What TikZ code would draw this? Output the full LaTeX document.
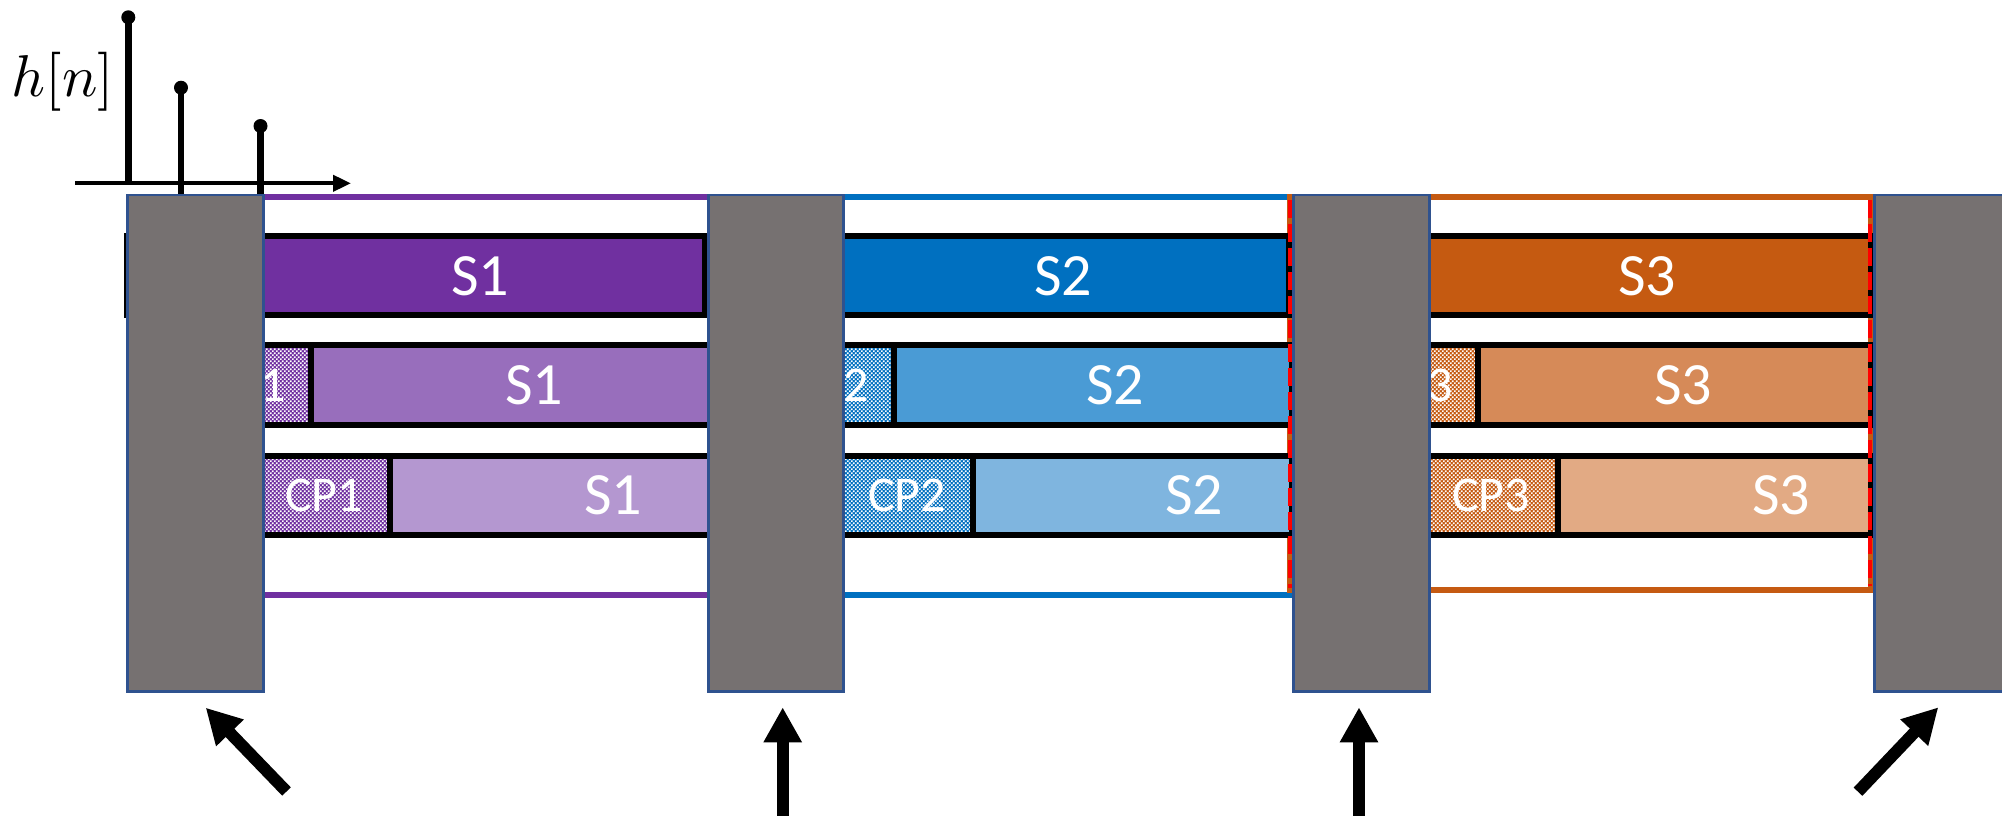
\documentclass[tikz,border=0pt]{standalone}
\usepackage[no-math]{fontspec}
\setmainfont{Carlito}
\usetikzlibrary{arrows.meta,patterns}
\pgfdeclarepatternformonly{cpchecker}{\pgfpointorigin}{\pgfqpoint{4.4pt}{4.4pt}}{\pgfqpoint{4.4pt}{4.4pt}}{%
  \pgfpathrectangle{\pgfpointorigin}{\pgfqpoint{1.9pt}{1.9pt}}%
  \pgfpathrectangle{\pgfqpoint{2.2pt}{2.2pt}}{\pgfqpoint{1.9pt}{1.9pt}}%
  \pgfusepath{fill}}
\definecolor{puA}{HTML}{7030A0}
\definecolor{puB}{HTML}{986EBC}
\definecolor{puC}{HTML}{B497D0}
\definecolor{blA}{HTML}{0070C0}
\definecolor{blB}{HTML}{4A9BD5}
\definecolor{blC}{HTML}{7FB5DF}
\definecolor{orA}{HTML}{C55A11}
\definecolor{orB}{HTML}{D68A58}
\definecolor{orC}{HTML}{E2AA84}
\definecolor{gbody}{HTML}{767171}
\definecolor{gedge}{HTML}{2F528F}
\begin{document}
\begin{tikzpicture}[x=1pt,y=-1pt,
  segframe/.style={line width=5.5pt},
  rowbar/.style={draw=black, line width=6pt, line join=miter},
  cpbox/.style={draw=black, line width=6pt, pattern=cpchecker, pattern color=white},
  lbl/.style={text=white, font=\fontsize{60}{72}\selectfont, inner sep=0pt},
  cplbl/.style={text=white, font=\fontsize{50}{60}\selectfont, inner sep=0pt},
  gibox/.style={fill=gbody, draw=gedge, line width=2.5pt, anchor=north west, inner sep=0pt, minimum width=136pt, minimum height=496.5pt},
  reddash/.style={draw=red, line width=4pt, dash pattern=on 18pt off 6pt},
  stemline/.style={line width=6.5pt},
  dotend/.style={circle, fill=black, inner sep=0pt, minimum size=14pt},
  bigarrow/.style={line width=12pt, -{Triangle[length=35pt,width=36pt]}}
]
\useasboundingbox (0,0) rectangle (2002,815);

% frames
\draw[segframe, draw=puA] (140,197) rectangle (760,595);
\draw[segframe, draw=blA] (780,197) rectangle (1300,595);
\draw[segframe, draw=orA] (1290,197) rectangle (1871,590);

% black dashed line near first guard
\draw[black, line width=2.5pt, dash pattern=on 12pt off 8pt] (263.5,200) -- (263.5,592);

% segment 1 rows
\draw[rowbar, fill=puA] (127,235.5) rectangle (705,315);
\fill[puA] (182.5,345) rectangle (310.5,424.5);
\draw[cpbox] (182.5,345) rectangle (310.5,424.5);
\draw[rowbar, fill=puB] (310.5,345) rectangle (730,424.5);
\fill[puA] (250,455.5) rectangle (390,534.5);
\draw[cpbox] (250,455.5) rectangle (390,534.5);
\draw[rowbar, fill=puC] (390,455.5) rectangle (730,534.5);
% segment 2 rows
\draw[rowbar, fill=blA] (760,235.5) rectangle (1289,315);
\fill[blA] (766,345) rectangle (893.7,424.5);
\draw[cpbox] (766,345) rectangle (893.7,424.5);
\draw[rowbar, fill=blB] (893.7,345) rectangle (1292,424.5);
\fill[blA] (830,455.5) rectangle (973,534.5);
\draw[cpbox] (830,455.5) rectangle (973,534.5);
\draw[rowbar, fill=blC] (973,455.5) rectangle (1292,534.5);
% segment 3 rows
\draw[rowbar, fill=orA] (1400,235.5) rectangle (1871,315);
\fill[orA] (1349.5,345) rectangle (1477.5,424.5);
\draw[cpbox] (1349.5,345) rectangle (1477.5,424.5);
\draw[rowbar, fill=orB] (1477.5,345) rectangle (1871,424.5);
\fill[orA] (1400,455.5) rectangle (1557.5,534.5);
\draw[cpbox] (1400,455.5) rectangle (1557.5,534.5);
\draw[rowbar, fill=orC] (1557.5,455.5) rectangle (1871,534.5);

% labels
\node[lbl] (s1a) at (480,276) {S1};
\node[lbl] (s2a) at (1063,276) {S2};
\node[lbl] (s3a) at (1647,276) {S3};
\node[lbl] (s1b) at (534,385) {S1};
\node[lbl] (s2b) at (1115,385) {S2};
\node[lbl] (s3b) at (1683,385) {S3};
\node[lbl] (s1c) at (613,495) {S1};
\node[lbl] (s2c) at (1194,495) {S2};
\node[lbl] (s3c) at (1781,495) {S3};
\node[cplbl] (cp1b) at (246.5,385) {CP1};
\node[cplbl] (cp2b) at (830,385) {CP2};
\node[cplbl] (cp3b) at (1413.5,385) {CP3};
\node[cplbl] (cp1c) at (324,495) {CP1};
\node[cplbl] (cp2c) at (907,495) {CP2};
\node[cplbl] (cp3c) at (1491,495) {CP3};

% red dashed boundaries
\draw[reddash] (1290,200) -- (1290,588);
\draw[reddash] (1870,200) -- (1870,586);
\draw[reddash, line width=3pt] (1429.5,200) -- (1429.5,586);

% stem plot
\coordinate (ax0) at (75,183.3);
\coordinate (ax1) at (351,183.3);
\draw[line width=4pt, -{Triangle[length=18pt,width=16pt]}] (ax0) -- (ax1);
\node[dotend] (d1) at (128.3,17.3) {};
\node[dotend] (d2) at (181,87.7) {};
\node[dotend] (d3) at (260.5,126) {};
\coordinate (b1) at (128.3,183.3);
\coordinate (b2) at (181,196);
\coordinate (b3) at (260.5,196);
\draw[stemline] (d1.center) -- (b1);
\draw[stemline] (d2.center) -- (b2);
\draw[stemline] (d3.center) -- (b3);
\node[scale=5.9, inner sep=0pt] (hn) at (63,82) {$h[n]$};

% guard blocks
\node[gibox] (g1) at (126,193.5) {};
\node[gibox, minimum width=135pt] (g2) at (707,193.5) {};
\node[gibox] (g3) at (1292,193.5) {};
\node[gibox, minimum width=140pt] (g4) at (1873,193.5) {};

% pointer arrows
\coordinate (t1) at (286.5,791.5);
\coordinate (p1) at (205.7,707.7);
\coordinate (t2) at (782.7,830);
\coordinate (p2) at (782.7,707.3);
\coordinate (t3) at (1359,830);
\coordinate (p3) at (1359,707.3);
\coordinate (t4) at (1858,791.7);
\coordinate (p4) at (1938.3,707.3);
\draw[bigarrow] (t1) -- (p1);
\draw[bigarrow] (t2) -- (p2);
\draw[bigarrow] (t3) -- (p3);
\draw[bigarrow] (t4) -- (p4);
\end{tikzpicture}
\end{document}
